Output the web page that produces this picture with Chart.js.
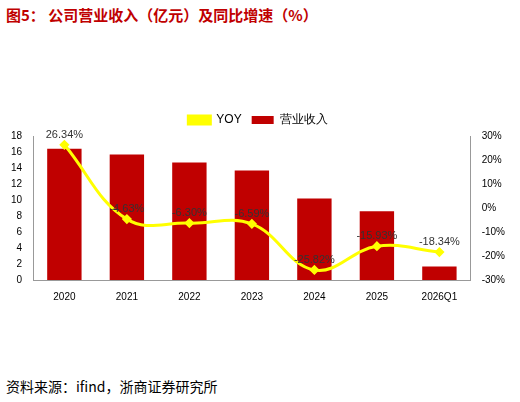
<!DOCTYPE html><html><head><meta charset="utf-8">
<script src="https://cdn.jsdelivr.net/npm/chart.js"></script>
<style>body{margin:0;background:#fff;width:520px;height:402px;position:relative;font-family:"Noto Sans CJK SC",sans-serif}
#t{position:absolute;left:6px;top:4px;font-size:15px;font-weight:bold;color:#c00000;}
#s{position:absolute;left:6px;top:376px;font-size:14px;color:#000}
#w{position:absolute;left:0;top:104px;width:520px;height:202px}</style></head><body>
<div id="t">图5：&nbsp;公司营业收入（亿元）及同比增速（%）</div>
<div id="w"><canvas id="c"></canvas></div>
<div id="s">资料来源：ifind，浙商证券研究所</div>
<script>
const categories=["2020","2021","2022","2023","2024","2025","2026Q1"];
const revenue=[16.4,15.7,14.7,13.7,10.2,8.6,1.7];
const yoy=[26.34,-4.63,-6.30,-6.59,-25.82,-15.93,-18.34];
const lbl={id:'lbl',afterDatasetsDraw(ch){const c=ch.ctx;const m=ch.getDatasetMeta(1);c.font='11px Liberation Sans, Arial';c.fillStyle='#333';c.textAlign='center';
m.data.forEach((p,i)=>{c.fillText(yoy[i].toFixed(2)+'%',p.x,p.y-10);});}};
new Chart(document.getElementById('c'),{data:{labels:categories,datasets:[
{type:'bar',label:'营业收入',data:revenue,backgroundColor:'#c00000',yAxisID:'y',barPercentage:0.55,categoryPercentage:1,order:2},
{type:'line',label:'YOY',data:yoy,borderColor:'#ffff00',backgroundColor:'#ffff00',borderWidth:3,tension:0.4,pointRadius:3,pointStyle:'rectRot',yAxisID:'y1',order:1}]},
options:{animation:false,responsive:true,maintainAspectRatio:false,layout:{padding:{left:8,right:12}},
plugins:{legend:{labels:{boxWidth:22,boxHeight:8,font:{size:12},color:'#000'}},tooltip:{enabled:false}},
scales:{x:{grid:{display:false},border:{color:'#999'},ticks:{color:'#000',font:{size:10}}},
y:{min:0,max:18,ticks:{stepSize:2,color:'#000',font:{size:10}},grid:{display:false},border:{color:'#999'}},
y1:{position:'right',min:-30,max:30,ticks:{stepSize:10,color:'#000',font:{size:10},callback:v=>v+'%'},grid:{display:false},border:{color:'#999'}}}},
plugins:[lbl]});
</script></body></html>
